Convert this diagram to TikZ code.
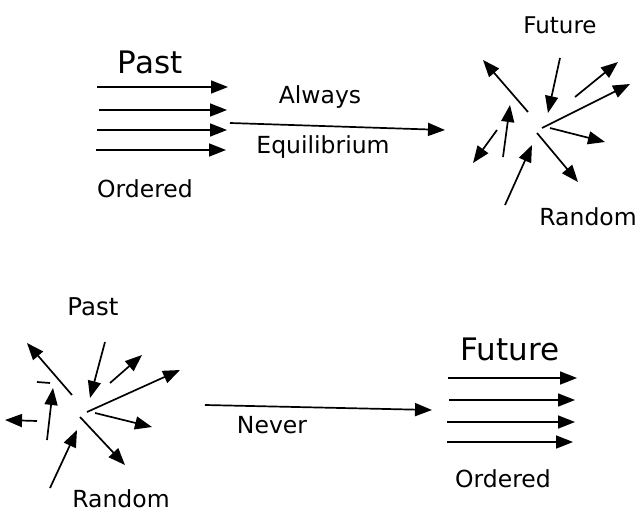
\documentclass[tikz,border=0pt]{standalone}
\usepackage{fontspec}
\setmainfont{DejaVu Sans}
\usetikzlibrary{arrows.meta}

\tikzset{
  arr/.style={line width=1.7pt, -{Triangle[length=17pt,width=13pt]}},
  lbl/.style={anchor=base, inner sep=0pt, font=\fontsize{23.5}{28}\selectfont},
  biglbl/.style={anchor=base, inner sep=0pt, font=\fontsize{31}{36}\selectfont},
}

\begin{document}
\begin{tikzpicture}[x=1pt,y=-1pt]
        \useasboundingbox (0,0) rectangle (637,514);
        % Top half: ordered past always goes to random future.
            \node[biglbl] (pastA) at (150,73) {Past};
            \node[lbl] (orderedA) at (145,197) {Ordered};
            \node[lbl] (always) at (320,103) {Always};
            \node[lbl] (equil) at (323,153) {Equilibrium};
            \node[lbl, font=\fontsize{23}{27}\selectfont] (futureA) at (560,33) {Future};
            \node[lbl] (randomA) at (588,225) {Random};
        \foreach \y/\a/\b in {87/97/228, 110/99/227, 130/97/227, 150/96/226}
            \draw[arr] (\a,\y) -- (\b,\y);
        \coordinate (alwaysS) at (230,123);
        \coordinate (alwaysE) at (445,130);
        \draw[arr] (alwaysS) -- (alwaysE);
        % This draws the random arrows on the right.
        \foreach \p/\q in {{528,112}/{483,60}, {560,58}/{548,113}, {575,97}/{618,62},
                {542,128}/{630,84}, {550,128}/{605,142}, {537,133}/{578,182},
                {505,205}/{532,145}, {503,157}/{510,105}, {497,130}/{473,163}}
            \draw[arr] (\p) -- (\q);
        % Bottom half: random past never goes to ordered future.
            \node[lbl, font=\fontsize{24.5}{29}\selectfont] (pastB) at (93,315) {Past};
            \node[lbl] (randomB) at (121,507) {Random};
            \node[lbl] (never) at (272,433) {Never};
            \node[biglbl] (futureB) at (510,360) {Future};
            \node[lbl] (orderedB) at (503,487) {Ordered};
        \foreach \p/\q in {{72,395}/{27,343}, {105,342}/{90,398}, {110,383}/{142,355},
                {87,412}/{180,370}, {95,413}/{152,427}, {80,417}/{125,465},
                {50,488}/{77,430}, {47,440}/{53,388}, {37,421}/{5,420}}
            \draw[arr] (\p) -- (\q);
        \draw[line width=1.7pt] (37,382) -- (50,383);
        \coordinate (neverS) at (205,405);
        \coordinate (neverE) at (432,410);
        \draw[arr] (neverS) -- (neverE);
        \foreach \y/\a/\b in {378/448/577, 400/449/575, 422/447/575, 442/447/573}
            \draw[arr] (\a,\y) -- (\b,\y);
\end{tikzpicture}
\end{document}
